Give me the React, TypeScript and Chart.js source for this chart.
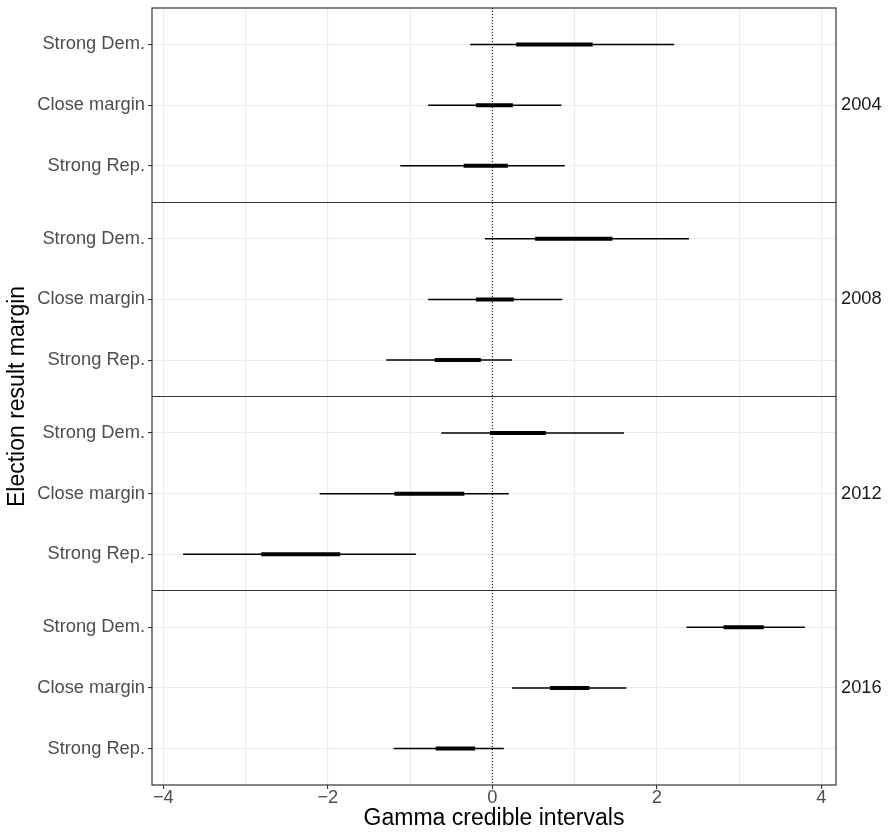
import React, { useEffect, useRef } from 'react';
import { Chart, registerables } from 'chart.js';

Chart.register(...registerables);

const years = ['2004', '2008', '2012', '2016'];
const categories = ['Strong Dem.', 'Close margin', 'Strong Rep.'];
// one value per row, rows ordered year by year, categories in the order above
const outerLow = [-0.27, -0.78, -1.12, -0.09, -0.78, -1.29, -0.62, -2.1, -3.76, 2.36, 0.24, -1.2];
const innerLow = [0.29, -0.2, -0.35, 0.52, -0.2, -0.7, -0.03, -1.19, -2.81, 2.81, 0.7, -0.69];
const innerHigh = [1.22, 0.25, 0.19, 1.46, 0.26, -0.14, 0.65, -0.34, -1.85, 3.3, 1.18, -0.21];
const outerHigh = [2.21, 0.84, 0.88, 2.39, 0.85, 0.24, 1.6, 0.2, -0.93, 3.8, 1.63, 0.14];
const xTicks = [-4, -3, -2, -1, 0, 1, 2, 3, 4];
const xLabelled = [-4, -2, 0, 2, 4];

const EXPAND = 0.6;
const PANEL = categories.length - 1 + 2 * EXPAND;
const Y_MAX = PANEL * years.length;
const FONT = "'Liberation Sans', Arial, Helvetica, sans-serif";

const rowPos = (i: number) => Math.floor(i / categories.length) * PANEL + EXPAND + (i % categories.length);
const near = (a: number, b: number) => Math.abs(a - b) < 1e-6;

const catTicks: number[] = [];
const catLabels: string[] = [];
outerLow.forEach((_, i) => {
  catTicks.push(rowPos(i));
  catLabels.push(categories[i % categories.length]);
});
const sepTicks: number[] = [];
for (let p = 1; p < years.length; p++) sepTicks.push(p * PANEL);
const yearTicks = years.map((_, p) => p * PANEL + PANEL / 2);

const isSep = (v: number) => sepTicks.some((s) => near(s, v));

const borderPlugin = {
  id: 'panelBorder',
  afterDatasetsDraw(chart: any) {
    const { ctx, chartArea } = chart;
    ctx.save();
    ctx.strokeStyle = '#333333';
    ctx.lineWidth = 1.2;
    ctx.strokeRect(chartArea.left, chartArea.top, chartArea.right - chartArea.left, chartArea.bottom - chartArea.top);
    ctx.restore();
  },
};

const noPad = (s: any) => {
  s.paddingTop = 0;
  s.paddingBottom = 0;
  s.paddingLeft = 0;
  s.paddingRight = 0;
};

export default function App() {
  const ref = useRef<HTMLCanvasElement | null>(null);

  useEffect(() => {
    if (!ref.current) return;
    const lo = Math.min(...outerLow);
    const hi = Math.max(...outerHigh);
    const pad = (hi - lo) * 0.05;

    const datasets: any[] = [];
    datasets.push({
      data: [{ x: 0, y: 0 }, { x: 0, y: Y_MAX }],
      borderColor: '#000000',
      borderWidth: 1,
      borderDash: [1, 2],
      pointRadius: 0,
      showLine: true,
      order: 3,
    });
    outerLow.forEach((_, i) => {
      const y = rowPos(i);
      datasets.push({
        data: [{ x: outerLow[i], y }, { x: outerHigh[i], y }],
        borderColor: '#000000',
        borderWidth: 1.5,
        pointRadius: 0,
        showLine: true,
        order: 2,
      });
      datasets.push({
        data: [{ x: innerLow[i], y }, { x: innerHigh[i], y }],
        borderColor: '#000000',
        borderWidth: 4,
        pointRadius: 0,
        showLine: true,
        order: 1,
      });
    });

    const chart = new Chart(ref.current, {
      type: 'scatter',
      data: { datasets },
      plugins: [borderPlugin],
      options: {
        responsive: false,
        animation: false,
        events: [],
        layout: { padding: { top: 8, left: 0, right: 0, bottom: 0 } },
        plugins: { legend: { display: false }, tooltip: { enabled: false } },
        scales: {
          x: {
            type: 'linear',
            position: 'bottom',
            min: lo - pad,
            max: hi + pad,
            afterBuildTicks: (s: any) => {
              s.ticks = xTicks.map((v) => ({ value: v }));
            },
            afterFit: (s: any) => {
              s.height = 51;
              noPad(s);
            },
            ticks: {
              autoSkip: false,
              maxRotation: 0,
              padding: 0,
              color: '#4D4D4D',
              font: { family: FONT, size: 18.3, lineHeight: 1 },
              callback: (v: any) => {
                const n = Number(v);
                if (!xLabelled.some((t) => near(t, n))) return '';
                return n < 0 ? '\u2212' + Math.abs(n) : String(n);
              },
            },
            grid: {
              color: '#EBEBEB',
              lineWidth: 1.1,
              tickLength: 4,
              tickColor: (ctx: any) =>
                xLabelled.some((t) => near(t, ctx.tick ? ctx.tick.value : NaN)) ? '#333333' : 'rgba(0,0,0,0)',
            },
            border: { display: false },
            title: {
              display: true,
              text: 'Gamma credible intervals',
              color: '#000000',
              font: { family: FONT, size: 23 },
              padding: { top: 0, bottom: 3.5 },
            },
          },
          y: {
            type: 'linear',
            position: 'left',
            min: 0,
            max: Y_MAX,
            reverse: true,
            afterBuildTicks: (s: any) => {
              s.ticks = [...catTicks, ...sepTicks].sort((a, b) => a - b).map((v) => ({ value: v }));
            },
            afterFit: (s: any) => {
              s.width = 152;
              noPad(s);
            },
            ticks: {
              autoSkip: false,
              padding: 3,
              color: '#4D4D4D',
              font: { family: FONT, size: 18.3 },
              callback: (v: any) => {
                const n = Number(v);
                const k = catTicks.findIndex((t) => near(t, n));
                return k >= 0 ? catLabels[k] : '';
              },
            },
            grid: {
              color: (ctx: any) => (ctx.tick && isSep(ctx.tick.value) ? '#333333' : '#EBEBEB'),
              lineWidth: 1.1,
              tickLength: 4,
              tickColor: (ctx: any) => (ctx.tick && isSep(ctx.tick.value) ? 'rgba(0,0,0,0)' : '#333333'),
            },
            border: { display: false },
            title: {
              display: true,
              text: 'Election result margin',
              color: '#000000',
              font: { family: FONT, size: 23 },
              padding: { top: 4, bottom: 0 },
            },
          },
          yr: {
            type: 'linear',
            position: 'right',
            min: 0,
            max: Y_MAX,
            reverse: true,
            afterBuildTicks: (s: any) => {
              s.ticks = yearTicks.map((v) => ({ value: v }));
            },
            afterFit: (s: any) => {
              s.width = 55;
              noPad(s);
            },
            ticks: {
              autoSkip: false,
              padding: 5,
              color: '#1A1A1A',
              font: { family: FONT, size: 18.3 },
              callback: (v: any) => {
                const k = yearTicks.findIndex((t) => near(t, Number(v)));
                return k >= 0 ? years[k] : '';
              },
            },
            grid: { display: false, drawTicks: false },
            border: { display: false },
          },
        },
      } as any,
    });
    return () => chart.destroy();
  }, []);

  return (
    <div style={{ position: 'fixed', left: 0, top: 0, width: 891, height: 836, background: '#ffffff' }}>
      <canvas ref={ref} width={891} height={836} style={{ display: 'block' }} />
    </div>
  );
}
